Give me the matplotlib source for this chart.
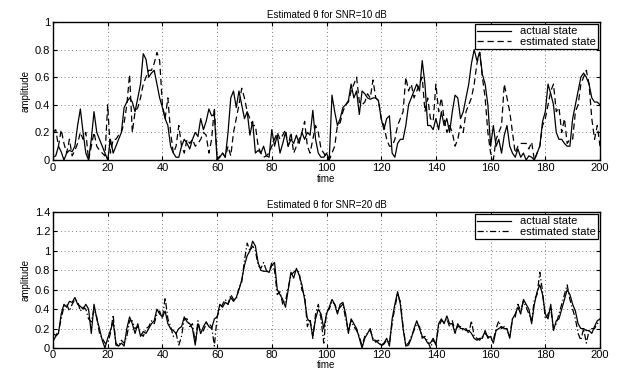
import numpy as np
import matplotlib
matplotlib.use("Agg")
import matplotlib.pyplot as plt

plt.rcParams['font.family'] = ['Liberation Sans', 'DejaVu Sans']

time = np.arange(0, 201)

actual_10 = [
    0.02, 0.03, 0.10, 0.06, 0.00, 0.05, 0.07, 0.06, 0.10, 0.25,
    0.37, 0.20, 0.05, 0.00, 0.15, 0.35, 0.20, 0.15, 0.10, 0.05,
    0.00, 0.15, 0.05, 0.10, 0.15, 0.20, 0.38, 0.42, 0.45, 0.42,
    0.35, 0.45, 0.55, 0.77, 0.73, 0.60, 0.63, 0.65, 0.55, 0.45,
    0.38, 0.30, 0.25, 0.10, 0.05, 0.02, 0.02, 0.10, 0.15, 0.12,
    0.08, 0.15, 0.20, 0.17, 0.30, 0.22, 0.28, 0.37, 0.32, 0.33,
    0.00, 0.02, 0.05, 0.02, 0.20, 0.45, 0.50, 0.38, 0.50, 0.40,
    0.30, 0.35, 0.18, 0.28, 0.05, 0.07, 0.05, 0.10, 0.03, 0.02,
    0.22, 0.10, 0.18, 0.05, 0.12, 0.20, 0.10, 0.15, 0.12, 0.18,
    0.12, 0.20, 0.15, 0.20, 0.18, 0.36, 0.15, 0.05, 0.02, 0.02,
    0.05, 0.00, 0.47, 0.35, 0.25, 0.30, 0.38, 0.40, 0.43, 0.55,
    0.45, 0.50, 0.33, 0.50, 0.48, 0.45, 0.44, 0.45, 0.45, 0.43,
    0.30, 0.22, 0.30, 0.32, 0.05, 0.02, 0.12, 0.15, 0.15, 0.25,
    0.40, 0.45, 0.50, 0.55, 0.50, 0.72, 0.55, 0.25, 0.25, 0.22,
    0.30, 0.22, 0.35, 0.25, 0.30, 0.20, 0.35, 0.47, 0.45, 0.30,
    0.35, 0.45, 0.55, 0.70, 0.80, 0.72, 0.78, 0.62, 0.55, 0.40,
    0.10, 0.25, 0.10, 0.15, 0.05, 0.18, 0.25, 0.10, 0.05, 0.02,
    0.08, 0.02, 0.05, 0.00, 0.03, 0.02, 0.00, 0.05, 0.10, 0.28,
    0.35, 0.55, 0.48, 0.40, 0.20, 0.15, 0.15, 0.12, 0.10, 0.10,
    0.30, 0.40, 0.50, 0.60, 0.63, 0.60, 0.55, 0.45, 0.42, 0.42,
    0.40,
]

estimated_10 = [
    0.20, 0.22, 0.10, 0.22, 0.12, 0.05, 0.15, 0.03, 0.07, 0.12,
    0.20, 0.15, 0.20, 0.00, 0.10, 0.20, 0.10, 0.07, 0.05, 0.03,
    0.40, 0.05, 0.15, 0.15, 0.18, 0.20, 0.27, 0.40, 0.62, 0.20,
    0.35, 0.38, 0.45, 0.55, 0.60, 0.65, 0.65, 0.70, 0.78, 0.72,
    0.40, 0.30, 0.45, 0.20, 0.05, 0.10, 0.25, 0.10, 0.05, 0.15,
    0.12, 0.15, 0.10, 0.12, 0.15, 0.20, 0.18, 0.05, 0.15, 0.38,
    0.00, 0.03, 0.05, 0.02, 0.10, 0.03, 0.20, 0.30, 0.40, 0.52,
    0.45, 0.35, 0.30, 0.25, 0.25, 0.10, 0.05, 0.02, 0.03, 0.05,
    0.10, 0.15, 0.20, 0.15, 0.18, 0.22, 0.10, 0.20, 0.05, 0.10,
    0.15, 0.20, 0.28, 0.10, 0.05, 0.15, 0.25, 0.20, 0.08, 0.05,
    0.02, 0.00, 0.05, 0.10, 0.25, 0.27, 0.35, 0.40, 0.42, 0.50,
    0.55, 0.60, 0.42, 0.40, 0.42, 0.48, 0.45, 0.58, 0.45, 0.43,
    0.30, 0.25, 0.15, 0.10, 0.10, 0.15, 0.25, 0.30, 0.35, 0.60,
    0.50, 0.55, 0.45, 0.50, 0.55, 0.60, 0.35, 0.45, 0.30, 0.28,
    0.55, 0.35, 0.45, 0.30, 0.20, 0.25, 0.20, 0.10, 0.15, 0.25,
    0.20, 0.35, 0.40, 0.45, 0.55, 0.70, 0.78, 0.60, 0.45, 0.20,
    0.05, 0.00, 0.15, 0.20, 0.25, 0.55, 0.45, 0.35, 0.20, 0.05,
    0.10, 0.12, 0.12, 0.12, 0.08, 0.13, 0.00, 0.05, 0.10, 0.25,
    0.30, 0.40, 0.50, 0.55, 0.35, 0.38, 0.20, 0.30, 0.12, 0.15,
    0.15, 0.35, 0.40, 0.55, 0.60, 0.65, 0.55, 0.30, 0.15, 0.25,
    0.10,
]

actual_20 = [
    0.07, 0.12, 0.15, 0.35, 0.45, 0.42, 0.48, 0.47, 0.52, 0.45,
    0.43, 0.40, 0.45, 0.40, 0.15, 0.45, 0.30, 0.20, 0.08, 0.00,
    0.10, 0.18, 0.27, 0.05, 0.02, 0.05, 0.02, 0.20, 0.32, 0.25,
    0.15, 0.25, 0.12, 0.17, 0.15, 0.20, 0.25, 0.28, 0.40, 0.35,
    0.32, 0.38, 0.25, 0.20, 0.18, 0.15, 0.20, 0.22, 0.32, 0.27,
    0.25, 0.20, 0.03, 0.25, 0.15, 0.22, 0.27, 0.22, 0.20, 0.30,
    0.32, 0.45, 0.42, 0.47, 0.45, 0.52, 0.48, 0.52, 0.60, 0.70,
    0.85, 0.95, 1.00, 1.10, 1.05, 0.88, 0.80, 0.79, 0.79, 0.78,
    0.85, 0.88, 0.60, 0.55, 0.50, 0.42, 0.60, 0.78, 0.72, 0.82,
    0.75, 0.65, 0.50, 0.30, 0.27, 0.12, 0.30, 0.40, 0.35, 0.20,
    0.35, 0.42, 0.50, 0.45, 0.35, 0.45, 0.47, 0.35, 0.15, 0.30,
    0.25, 0.20, 0.10, 0.00, 0.10, 0.15, 0.20, 0.08, 0.08, 0.05,
    0.03, 0.05, 0.10, 0.02, 0.30, 0.45, 0.58, 0.45, 0.20, 0.02,
    0.03, 0.10, 0.20, 0.28, 0.20, 0.12, 0.10, 0.05, 0.05, 0.10,
    0.03, 0.25, 0.30, 0.25, 0.33, 0.25, 0.25, 0.15, 0.25, 0.20,
    0.20, 0.18, 0.18, 0.15, 0.10, 0.08, 0.10, 0.10, 0.18, 0.10,
    0.12, 0.05, 0.18, 0.20, 0.22, 0.20, 0.20, 0.10, 0.30, 0.35,
    0.42, 0.35, 0.50, 0.45, 0.40, 0.25, 0.45, 0.58, 0.65, 0.55,
    0.35, 0.30, 0.45, 0.18, 0.28, 0.30, 0.40, 0.50, 0.60, 0.55,
    0.45, 0.38, 0.25, 0.20, 0.20, 0.18, 0.18, 0.15, 0.22, 0.28,
    0.30,
]

estimated_20 = [
    0.15, 0.13, 0.17, 0.30, 0.43, 0.45, 0.38, 0.45, 0.50, 0.48,
    0.38, 0.42, 0.40, 0.30, 0.27, 0.40, 0.32, 0.15, 0.10, 0.05,
    0.05, 0.15, 0.34, 0.03, 0.02, 0.08, 0.05, 0.12, 0.28, 0.28,
    0.20, 0.22, 0.15, 0.12, 0.20, 0.22, 0.28, 0.25, 0.35, 0.38,
    0.30, 0.52, 0.30, 0.22, 0.12, 0.15, 0.03, 0.12, 0.30, 0.30,
    0.22, 0.25, 0.05, 0.28, 0.15, 0.18, 0.25, 0.25, 0.22, 0.02,
    0.32, 0.40, 0.45, 0.50, 0.45, 0.55, 0.50, 0.50, 0.62, 0.68,
    0.90, 1.08, 1.00, 1.05, 1.00, 0.85, 0.82, 0.88, 0.80, 0.78,
    0.88, 0.80, 0.55, 0.58, 0.45, 0.48, 0.62, 0.75, 0.78, 0.80,
    0.78, 0.60, 0.55, 0.22, 0.30, 0.10, 0.35, 0.45, 0.30, 0.05,
    0.38, 0.40, 0.48, 0.45, 0.38, 0.42, 0.45, 0.30, 0.18, 0.28,
    0.22, 0.18, 0.12, 0.02, 0.12, 0.15, 0.18, 0.10, 0.06, 0.08,
    0.02, 0.04, 0.08, 0.05, 0.25, 0.42, 0.55, 0.48, 0.22, 0.03,
    0.05, 0.12, 0.18, 0.25, 0.22, 0.10, 0.12, 0.07, 0.00, 0.08,
    0.05, 0.22, 0.28, 0.27, 0.30, 0.22, 0.28, 0.18, 0.22, 0.22,
    0.18, 0.20, 0.15, 0.28, 0.12, 0.10, 0.08, 0.12, 0.15, 0.12,
    0.10, 0.08, 0.20, 0.28, 0.20, 0.22, 0.18, 0.12, 0.30, 0.32,
    0.45, 0.38, 0.48, 0.42, 0.35, 0.28, 0.50, 0.55, 0.78, 0.58,
    0.30, 0.35, 0.40, 0.20, 0.25, 0.35, 0.45, 0.55, 0.65, 0.50,
    0.40, 0.30, 0.15, 0.08, 0.20, 0.05, 0.18, 0.20, 0.20, 0.25,
    0.28,
]

xticks = [0, 20, 40, 60, 80, 100, 120, 140, 160, 180, 200]
yticks_top = [0, 0.2, 0.4, 0.6, 0.8, 1]
yticks_bot = [0, 0.2, 0.4, 0.6, 0.8, 1, 1.2, 1.4]
titles = ["Estimated \u03b8 for SNR=10 dB", "Estimated \u03b8 for SNR=20 dB"]


def fmt(v):
    return "%g" % v


fig = plt.figure(figsize=(6.18, 3.70), dpi=100)
W, H = 618.0, 370.0
ax1 = fig.add_axes([53 / W, 1 - 160 / H, 547 / W, 138 / H])
ax2 = fig.add_axes([53 / W, 1 - 348 / H, 547 / W, 136 / H])

specs = [
    (ax1, actual_10, estimated_10, (0, 1), yticks_top, titles[0], (0, (5, 3)), 1, 2),
    (ax2, actual_20, estimated_20, (0, 1.4), yticks_bot, titles[1], (0, (5, 2, 1, 2)), 0, 1.5),
]

for ax, act, est, ylim, yt, title, est_ls, lpad, tpad in specs:
    ax.plot(time, act, color='black', lw=0.9, ls='-', label='actual state')
    ax.plot(time, est, color='black', lw=0.9, ls=est_ls, label='estimated state')
    ax.set_xlim(0, 200)
    ax.set_ylim(*ylim)
    ax.set_xticks(xticks)
    ax.set_yticks(yt)
    ax.set_yticklabels([fmt(v) for v in yt])
    ax.grid(True, color='#555555', linestyle=(0, (1, 3.5)), linewidth=0.6)
    ax.tick_params(direction='in', length=3, width=0.8, labelsize=8,
                   top=True, right=True, pad=2)
    ax.tick_params(axis='x', pad=tpad)
    for sp in ax.spines.values():
        sp.set_linewidth(1.0)
    ax.set_title(title, fontsize=7, pad=3)
    ax.set_xlabel('time', fontsize=7, labelpad=lpad)
    ax.set_ylabel('amplitude', fontsize=7, labelpad=3)
    leg = ax.legend(loc='upper right', fontsize=8, frameon=True, fancybox=False,
                    edgecolor='black', framealpha=1, borderaxespad=0.2,
                    handlelength=3.0, borderpad=0.2, labelspacing=0.05,
                    handletextpad=0.8)
    leg.get_frame().set_linewidth(0.9)

fig.savefig('out.png', dpi=100)
